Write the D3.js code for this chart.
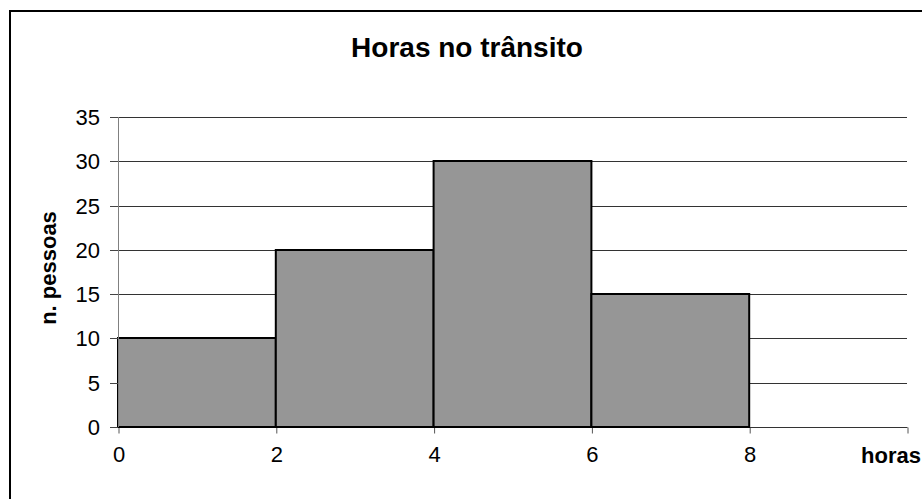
<!DOCTYPE html>
<html>
<head>
<meta charset="utf-8">
<script src="https://cdn.jsdelivr.net/npm/d3@7"></script>
<style>
  html, body { margin: 0; padding: 0; background: #fff; }
  svg { display: block; font-family: "Liberation Sans", Arial, sans-serif; }
</style>
</head>
<body>
<svg id="chart" width="922" height="499"></svg>
<script>
// Histogram bins (hours) and counts
const binStarts = [0, 2, 4, 6];
const binEnds = [2, 4, 6, 8];
const counts = [10, 20, 30, 15];
const xTicks = [0, 2, 4, 6, 8];
const yTicks = [0, 5, 10, 15, 20, 25, 30, 35];

const svg = d3.select("#chart");
const plot = { left: 118, right: 907, top: 117, bottom: 427 };
const font = "Liberation Sans, Arial, sans-serif";

const x = d3.scaleLinear().domain([0, 10]).range([plot.left, plot.right]);
const y = d3.scaleLinear().domain([0, 35]).range([plot.bottom, plot.top]).interpolate(d3.interpolateRound);

// outer frame
svg.append("rect")
  .attr("x", 10).attr("y", 11)
  .attr("width", 940).attr("height", 520)
  .attr("fill", "none").attr("stroke", "#000").attr("stroke-width", 2);

// title
svg.append("text")
  .attr("x", 467).attr("y", 57)
  .attr("text-anchor", "middle")
  .attr("font-size", 28).attr("font-weight", "bold")
  .text("Horas no trânsito");

// horizontal gridlines
svg.append("g").selectAll("line")
  .data(yTicks.filter(d => d > 0))
  .join("line")
  .attr("x1", plot.left).attr("x2", plot.right)
  .attr("y1", d => y(d) + 0.5).attr("y2", d => y(d) + 0.5)
  .attr("stroke", "#333").attr("stroke-width", 1);

// x axis baseline (drawn under the bars)
const xAxis = d3.axisBottom(x).tickValues(xTicks.concat([10])).tickSize(6).tickPadding(13)
  .tickFormat(d => d === 10 ? "" : d);
const gx = svg.append("g")
  .attr("transform", `translate(0.5,${plot.bottom + 0.5})`)
  .call(xAxis);
gx.select(".domain").attr("stroke", "#333").attr("stroke-width", 1)
  .attr("d", `M${plot.left},0H${plot.right}`);
gx.selectAll(".tick line").attr("stroke", "#555");
gx.selectAll(".tick text")
  .attr("font-size", 22).attr("fill", "#000")
  .attr("font-family", font);

// bars
svg.append("g").selectAll("rect")
  .data(counts)
  .join("rect")
  .attr("x", (d, i) => x(binStarts[i]))
  .attr("y", d => y(d))
  .attr("width", (d, i) => x(binEnds[i]) - x(binStarts[i]))
  .attr("height", d => y(0) - y(d))
  .attr("fill", "#969696")
  .attr("stroke", "#000").attr("stroke-width", 2);

// y axis
const yAxis = d3.axisLeft(y).tickValues(yTicks).tickSize(8).tickPadding(10);
const gy = svg.append("g")
  .attr("transform", `translate(${plot.left},0)`)
  .call(yAxis);
gy.select(".domain").attr("stroke", "#808080").attr("d", `M0.5,${plot.top}V${plot.bottom}`);
gy.selectAll(".tick line").attr("stroke", "#444");
gy.selectAll(".tick text")
  .attr("font-size", 22).attr("fill", "#000")
  .attr("font-family", font);

// axis titles
svg.append("text")
  .attr("x", 921).attr("y", 463)
  .attr("text-anchor", "end")
  .attr("font-size", 22).attr("font-weight", "bold")
  .text("horas");

svg.append("text")
  .attr("transform", "translate(56,268) rotate(-90)")
  .attr("text-anchor", "middle")
  .attr("font-size", 22).attr("font-weight", "bold")
  .text("n. pessoas");
</script>
</body>
</html>
